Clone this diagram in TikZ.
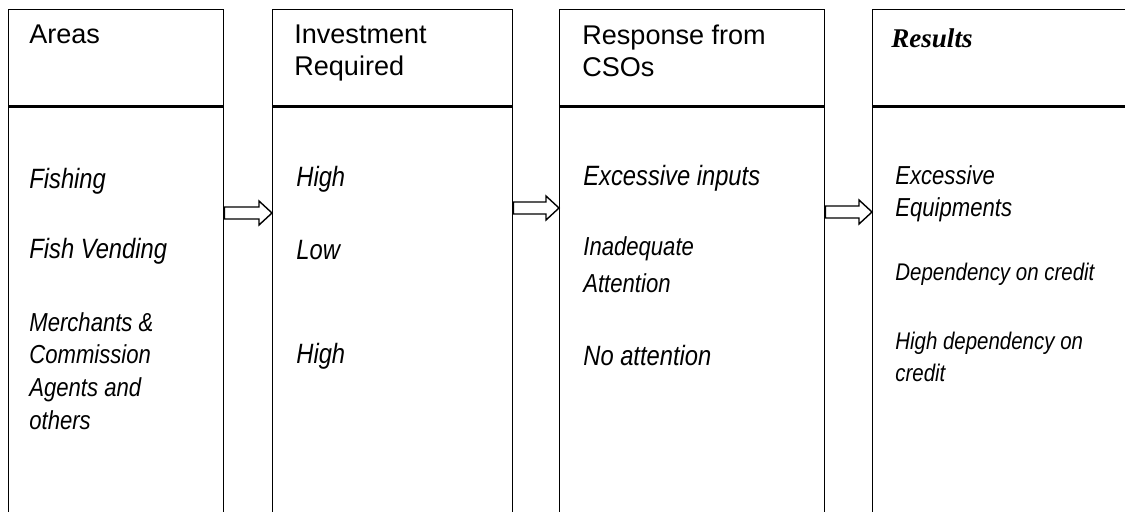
\documentclass[tikz,border=0pt]{standalone}
\usepackage{fontspec}
\setmainfont{Liberation Sans}
\newfontfamily\narrowit{Liberation Sans}[FakeStretch=0.85]
\newfontfamily\resfont{Liberation Serif}
\usepackage{tikz}
\usetikzlibrary{calc}

\tikzset{
	head/.style={draw, line width=0.8pt, anchor=north west, inner sep=0, minimum height=1.92cm},
	body/.style={draw, line width=0.8pt, anchor=north west, inner sep=0, minimum height=8.4cm},
	txt/.style={anchor=north west, inner sep=0, align=left},
	htxt/.style={txt, font=\fontsize{15.4}{18.2}\selectfont},
	bigtxt/.style={txt, font=\narrowit\itshape\fontsize{15.9}{18.8}\selectfont},
	midtxt/.style={txt, font=\narrowit\itshape\fontsize{14.8}{18.6}\selectfont},
	smalltxt/.style={txt, font=\narrowit\itshape\fontsize{13.7}{18.2}\selectfont},
	fat/.style={draw, line width=0.8pt}
}
% hollow block arrow from #1 to #2
\newcommand{\fatarrow}[2]{\path[fat] (#1) ++(0,-6) -- ($(#2)+(-13,-6)$) -- ++(0,-6) -- (#2) -- ++(-13,12) -- ++(0,-6) -- ($(#1)+(0,6)$) -- cycle;}

\begin{document}
\begin{tikzpicture}[x=0.02cm, y=-0.02cm]
	\useasboundingbox (0,0) rectangle (1125,511);
	\clip (0,0) rectangle (1125,511);
%	\draw [help lines] (0,0) grid [step=50] (1125,511);
	\node [head, minimum width=4.3cm] (areasH) at (8,9) {};
	\node [body, minimum width=4.3cm] (areasB) at (areasH.south west) {};
	\node [head, minimum width=4.8cm] (investH) at (272,9) {};
	\node [body, minimum width=4.8cm] (investB) at (investH.south west) {};
	\node [head, minimum width=5.3cm] (respH) at (559,9) {};
	\node [body, minimum width=5.3cm] (respB) at (respH.south west) {};
	\node [head, minimum width=6cm] (resH) at (872,9) {};
	\node [body, minimum width=6cm] (resB) at (resH.south west) {};

	\coordinate (t1) at (areasB.east |- 0,213);
	\coordinate (h1) at (investB.west |- 0,213);
	\coordinate (t2) at (investB.east |- 0,208);
	\coordinate (h2) at (respB.west |- 0,208);
	\coordinate (t3) at (respB.east |- 0,212);
	\coordinate (h3) at (resB.west |- 0,212);
	\fatarrow{t1}{h1}
	\fatarrow{t2}{h2}
	\fatarrow{t3}{h3}

	\node [htxt] (areasT) at (29,25) {Areas};
	\node [bigtxt] (fish) at (29,168) {Fishing};
	\node [bigtxt] (vend) at (29,238) {Fish Vending};
	\node [midtxt] (merch) at (29,312) {Merchants \&\\Commission\\Agents and\\others};

	\node [htxt] (investT) at (294,25) {Investment\\Required};
	\node [bigtxt] (highA) at (296,166) {High};
	\node [bigtxt] (low) at (296,240) {Low};
	\node [bigtxt] (highB) at (296,343) {High};

	\node [htxt] (respT) at (582,25) {Response from\\CSOs};
	\node [bigtxt] (inputs) at (583,165) {Excessive inputs};
	\node [midtxt] (inadeq) at (583,236) {Inadequate\\[2.4pt]Attention};
	\node [bigtxt] (noatt) at (583,345) {No attention};

	\node [htxt, font=\resfont\bfseries\itshape\fontsize{15.4}{18}\selectfont] (resT) at (891,28) {Results};
	\node [midtxt] (equip) at (895,165) {Excessive\\Equipments};
	\node [smalltxt] (dep) at (895,263) {Dependency on credit};
	\node [smalltxt] (hdep) at (895,332) {High dependency on\\credit};
\end{tikzpicture}
\end{document}
